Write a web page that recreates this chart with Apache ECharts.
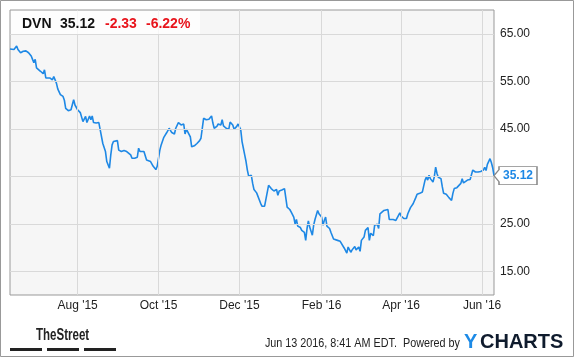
<!DOCTYPE html>
<html><head><meta charset="utf-8">
<script src="https://cdn.jsdelivr.net/npm/echarts@6/dist/echarts.min.js"></script>
<style>html,body{margin:0;padding:0;background:#fff}#c{width:575px;height:358px}</style>
</head><body><div id="c"></div>
<script>
const ticker = 'DVN';
const lastPrice = '35.12';
const changeAbs = '-2.33';
const changePct = '-6.22%';
const footerText = 'Jun 13 2016, 8:41 AM EDT.  Powered by';

const dates = [
'2015-06-11','2015-06-14','2015-06-16','2015-06-17','2015-06-19','2015-06-21','2015-06-23','2015-06-25','2015-06-27','2015-06-28',
'2015-06-29','2015-06-30','2015-07-01','2015-07-02','2015-07-04','2015-07-06','2015-07-07','2015-07-08','2015-07-09','2015-07-11',
'2015-07-13','2015-07-14','2015-07-16','2015-07-17','2015-07-19','2015-07-21','2015-07-22','2015-07-23','2015-07-25','2015-07-27',
'2015-07-29','2015-07-30','2015-08-01','2015-08-03','2015-08-04','2015-08-05','2015-08-07','2015-08-08','2015-08-10','2015-08-11',
'2015-08-12','2015-08-13','2015-08-15','2015-08-17','2015-08-18','2015-08-20','2015-08-22','2015-08-23','2015-08-25','2015-08-26',
'2015-08-27','2015-08-28','2015-08-31','2015-09-01','2015-09-02','2015-09-03','2015-09-05','2015-09-07','2015-09-08','2015-09-10',
'2015-09-11','2015-09-13','2015-09-15','2015-09-16','2015-09-17','2015-09-18','2015-09-20','2015-09-21','2015-09-22','2015-09-23',
'2015-09-25','2015-09-27','2015-09-29','2015-09-30','2015-10-02','2015-10-03','2015-10-05','2015-10-07','2015-10-09','2015-10-11',
'2015-10-13','2015-10-14','2015-10-16','2015-10-18','2015-10-19','2015-10-20','2015-10-21','2015-10-22','2015-10-23','2015-10-25',
'2015-10-26','2015-10-28','2015-10-29','2015-10-30','2015-11-01','2015-11-02','2015-11-03','2015-11-04','2015-11-06','2015-11-08',
'2015-11-09','2015-11-10','2015-11-11','2015-11-12','2015-11-14','2015-11-15','2015-11-16','2015-11-17','2015-11-18','2015-11-19',
'2015-11-21','2015-11-22','2015-11-23','2015-11-24','2015-11-26','2015-11-27','2015-11-29','2015-11-30','2015-12-01','2015-12-02',
'2015-12-03','2015-12-04','2015-12-05','2015-12-06','2015-12-07','2015-12-08','2015-12-10','2015-12-11','2015-12-12','2015-12-14',
'2015-12-15','2015-12-17','2015-12-18','2015-12-20','2015-12-21','2015-12-23','2015-12-25','2015-12-27','2015-12-28','2015-12-29',
'2015-12-30','2015-12-31','2016-01-02','2016-01-04','2016-01-05','2016-01-06','2016-01-08','2016-01-09','2016-01-11','2016-01-12',
'2016-01-13','2016-01-14','2016-01-16','2016-01-17','2016-01-19','2016-01-20','2016-01-21','2016-01-22','2016-01-23','2016-01-25',
'2016-01-26','2016-01-27','2016-01-29','2016-01-30','2016-02-01','2016-02-02','2016-02-03','2016-02-04','2016-02-05','2016-02-07',
'2016-02-08','2016-02-10','2016-02-11','2016-02-13','2016-02-15','2016-02-16','2016-02-18','2016-02-20','2016-02-21','2016-02-23',
'2016-02-24','2016-02-26','2016-02-27','2016-02-29','2016-03-01','2016-03-02','2016-03-04','2016-03-05','2016-03-07','2016-03-08',
'2016-03-09','2016-03-11','2016-03-12','2016-03-14','2016-03-15','2016-03-16','2016-03-17','2016-03-19','2016-03-22','2016-03-23',
'2016-03-24','2016-03-26','2016-03-28','2016-03-29','2016-03-31','2016-04-01','2016-04-03','2016-04-05','2016-04-06','2016-04-08',
'2016-04-09','2016-04-10','2016-04-12','2016-04-13','2016-04-15','2016-04-17','2016-04-18','2016-04-19','2016-04-20','2016-04-21',
'2016-04-22','2016-04-23','2016-04-25','2016-04-26','2016-04-27','2016-04-28','2016-04-29','2016-05-01','2016-05-02','2016-05-03',
'2016-05-05','2016-05-06','2016-05-07','2016-05-09','2016-05-10','2016-05-11','2016-05-13','2016-05-14','2016-05-16','2016-05-17',
'2016-05-18','2016-05-19','2016-05-21','2016-05-23','2016-05-24','2016-05-25','2016-05-27','2016-05-29','2016-05-31','2016-06-02',
'2016-06-03','2016-06-04','2016-06-05','2016-06-07','2016-06-08','2016-06-09','2016-06-10'
];
const prices = [
61.8,61.7,62.4,61.7,61.0,61.3,61.4,61.0,60.3,59.6,
58.9,59.6,57.8,57.4,57.1,56.6,57.4,55.7,55.9,55.7,
55.3,56.0,54.6,53.4,52.2,51.8,51.0,49.3,48.8,49.0,
51.1,50.0,49.0,48.4,48.6,46.5,47.6,46.3,47.7,46.9,
47.7,46.3,46.2,46.3,44.8,41.9,40.2,38.1,36.7,39.5,
41.6,42.3,42.5,40.5,40.9,40.2,40.4,40.2,40.4,39.5,
38.8,38.8,39.0,40.9,40.2,40.4,40.2,39.8,38.4,38.6,
38.1,37.1,36.4,37.1,40.5,41.6,43.2,44.1,45.1,44.2,
43.9,45.1,46.3,45.8,45.5,46.0,43.9,44.9,44.6,43.3,
41.2,41.4,41.0,41.9,42.5,43.0,45.1,47.2,46.9,47.0,
46.9,47.7,46.2,45.1,45.5,46.0,46.3,45.8,46.9,45.6,
45.1,45.1,44.9,46.4,45.8,44.9,45.5,46.0,46.3,44.8,
42.3,40.9,39.5,38.1,36.3,35.0,35.2,33.5,32.2,31.5,
31.2,29.3,28.7,28.7,28.9,33.1,32.4,31.9,31.7,32.2,
31.0,31.9,32.1,32.4,32.6,28.5,28.0,27.5,26.4,25.0,
25.9,24.5,24.2,23.6,23.2,21.5,24.0,25.6,24.3,22.6,
24.7,25.9,27.8,27.1,26.4,24.7,25.7,26.4,24.5,24.0,
23.2,21.8,21.7,21.5,21.3,20.9,19.9,18.8,20.1,19.0,
19.5,20.2,19.5,20.1,19.2,21.5,22.2,23.6,24.2,21.5,
23.0,22.5,24.7,24.9,24.0,27.1,27.5,27.8,28.0,25.9,
26.1,25.9,25.7,26.1,27.3,26.6,26.1,26.1,27.1,28.4,
28.6,29.2,30.5,31.2,31.4,31.7,32.1,34.2,34.8,34.2,
35.2,34.5,33.8,34.9,36.9,35.6,34.8,34.5,32.8,31.4,
31.2,30.8,30.5,29.9,31.4,32.4,32.6,32.9,33.5,34.5,
33.6,34.0,34.2,34.3,34.5,36.3,35.9,35.9,36.0,36.3,
36.9,36.2,37.5,38.7,37.9,36.8,35.12
];
const yTickValues = [15, 25, 35, 45, 55, 65];
const xTickDates = ['2015-08-01','2015-10-01','2015-12-01','2016-02-01','2016-04-01','2016-06-01'];
const xTickLabels = ["Aug '15","Oct '15","Dec '15","Feb '16","Apr '16","Jun '16"];
const xStart = '2015-06-11';
const xEnd = '2016-06-10';

const FONT = '"Liberation Sans", Arial, sans-serif';
const LINE = '#1e88e5';
const GRIDC = '#d9d9d9';

const toTime = d => +echarts.number.parseDate(d);
const chart = echarts.init(document.getElementById('c'), null, {renderer: 'canvas'});
const xTickTimes = xTickDates.map(toTime);
const seriesData = dates.map((d, i) => [toTime(d), prices[i]]);
const last = seriesData[seriesData.length - 1];

chart.setOption({
  animation: false,
  backgroundColor: '#fff',
  grid: {left: 10, top: 10, width: 484, height: 285, show: true,
         backgroundColor: '#f6f6f6', borderColor: '#999', borderWidth: 1},
  xAxis: {
    type: 'value', min: toTime(xStart), max: toTime(xEnd),
    axisLine: {show: false}, axisTick: {show: false}, splitLine: {show: false},
    axisLabel: {
      customValues: xTickTimes,
      formatter: v => { const i = xTickTimes.indexOf(+v); return i >= 0 ? xTickLabels[i] : ''; },
      color: '#222', fontSize: 12, fontFamily: FONT, margin: 5
    }
  },
  yAxis: {
    type: 'value', position: 'right', min: 10, max: 70,
    axisLine: {show: false}, axisTick: {show: false}, splitLine: {show: false},
    axisLabel: {
      customValues: yTickValues,
      formatter: v => Number(v).toFixed(2),
      color: '#222', fontSize: 12, fontFamily: FONT, margin: 6
    }
  },
  series: [
    {
      type: 'line', data: seriesData, showSymbol: false, silent: true, z: 1,
      lineStyle: {opacity: 0},
      markLine: {
        silent: true, symbol: 'none', label: {show: false},
        lineStyle: {color: GRIDC, width: 1, type: 'solid'},
        data: yTickValues.map(v => ({yAxis: v})).concat(xTickTimes.map(t => ({xAxis: t})))
      }
    },
    {
      type: 'line', data: seriesData, showSymbol: false, z: 3,
      lineStyle: {color: LINE, width: 1.6}, itemStyle: {color: LINE},
      markPoint: {
        silent: true,
        symbol: 'path://M0,9L5,3L5,0L43,0L43,18L5,18L5,15Z',
        symbolSize: [43, 18], symbolOffset: [21.5, 0],
        itemStyle: {color: '#fff', borderColor: '#888', borderWidth: 1},
        label: {show: true, position: 'inside', offset: [2.5, 0.5], formatter: lastPrice,
                color: LINE, fontWeight: 'bold', fontSize: 12, fontFamily: FONT},
        data: [{coord: last}]
      }
    }
  ],
  graphic: [
    {type: 'rect', shape: {x: 0.5, y: 0.5, width: 573, height: 356}, style: {fill: 'none', stroke: '#999', lineWidth: 1}, z: 0},
    {type: 'rect', shape: {x: 11, y: 11, width: 189, height: 23}, style: {fill: 'rgba(255,255,255,0.75)'}, z: 10},
    {type: 'text', x: 22, y: 24, style: {text: ticker, fill: '#111', font: 'bold 14px ' + FONT, textVerticalAlign: 'middle'}, z: 11},
    {type: 'text', x: 60, y: 24, style: {text: lastPrice, fill: '#111', font: 'bold 14px ' + FONT, textVerticalAlign: 'middle'}, z: 11},
    {type: 'text', x: 105, y: 24, style: {text: changeAbs, fill: '#e8141c', font: 'bold 14px ' + FONT, textVerticalAlign: 'middle'}, z: 11},
    {type: 'text', x: 146, y: 24, style: {text: changePct, fill: '#e8141c', font: 'bold 14px ' + FONT, textVerticalAlign: 'middle'}, z: 11},
    {type: 'text', x: 36, y: 336, scaleX: 0.72, style: {text: 'TheStreet', fill: '#222', font: 'bold 16px ' + FONT, textVerticalAlign: 'middle'}, z: 11},
    {type: 'rect', shape: {x: 10, y: 348, width: 32, height: 3}, style: {fill: '#222'}, z: 11},
    {type: 'rect', shape: {x: 47, y: 348, width: 32, height: 3}, style: {fill: '#222'}, z: 11},
    {type: 'rect', shape: {x: 84, y: 348, width: 32, height: 3}, style: {fill: '#222'}, z: 11},
    {type: 'text', x: 460, y: 344, scaleX: 0.9, style: {text: footerText, fill: '#222', font: '12px ' + FONT, textAlign: 'right', textVerticalAlign: 'middle'}, z: 11},
    {type: 'text', x: 464, y: 342, style: {text: 'Y', fill: '#1d8ae6', font: 'bold 20px ' + FONT, textVerticalAlign: 'middle'}, z: 11},
    {type: 'text', x: 480, y: 342, style: {text: 'CHARTS', fill: '#0f1b2d', font: 'bold 20px ' + FONT, textVerticalAlign: 'middle'}, z: 11}
  ]
});
</script></body></html>
